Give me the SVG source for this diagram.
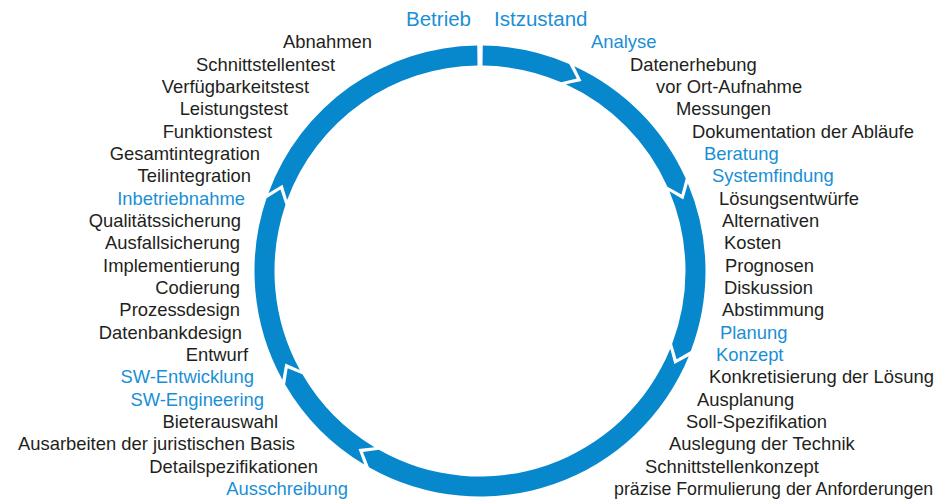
<svg xmlns="http://www.w3.org/2000/svg" width="940" height="501" viewBox="0 0 940 501">
<style>
.seg{fill:#0788cd;stroke:none}
text{font-family:"Liberation Sans",Arial,sans-serif;font-size:18.4px;fill:#231f20}
.b{fill:#1a8fd5}
.h{font-size:20.5px;fill:#1a8fd5}
.l{text-anchor:end}
.n{font-size:17.8px}
</style>
<rect width="940" height="501" fill="#ffffff"/>
<g id="connectors">
<path class="seg" d="M482.75,45.52 A225.5,225.5 0 0 1 569.20,63.89 L576.83,78.48 L561.29,82.26 A205.5,205.5 0 0 0 482.51,65.52 Z"/>
<path class="seg" d="M574.23,66.13 A225.5,225.5 0 0 1 685.70,178.56 L681.46,194.47 L667.46,186.76 A205.5,205.5 0 0 0 565.87,84.30 L581.50,80.90 Z"/>
<path class="seg" d="M687.88,183.61 A225.5,225.5 0 0 1 690.80,351.08 L676.58,359.34 L672.11,343.97 A205.5,205.5 0 0 0 669.44,191.37 L683.27,199.42 Z"/>
<path class="seg" d="M688.78,356.20 A225.5,225.5 0 0 1 368.96,467.27 L362.95,451.94 L378.81,449.86 A205.5,205.5 0 0 0 670.27,348.65 L674.35,364.12 Z"/>
<path class="seg" d="M364.20,464.49 A225.5,225.5 0 0 1 285.11,384.43 L287.65,368.16 L302.39,374.37 A205.5,205.5 0 0 0 374.47,447.33 L358.56,449.02 Z"/>
<path class="seg" d="M282.39,379.64 A225.5,225.5 0 0 1 266.53,198.33 L280.48,189.57 L285.46,204.77 A205.5,205.5 0 0 0 299.92,370.00 L285.33,363.44 Z"/>
<path class="seg" d="M268.37,193.13 A225.5,225.5 0 0 1 477.25,45.52 L477.49,65.52 A205.5,205.5 0 0 0 287.14,200.04 L282.52,184.73 Z"/>
</g>
<g id="betrieb"><text class="h l" x="471" y="26">Betrieb</text></g>
<g id="istzustand"><text class="h" x="494" y="26">Istzustand</text></g>
<g id="analyse">
<text class="b" x="591" y="48.3">Analyse</text>
<text x="630" y="70.6">Datenerhebung</text>
<text x="656" y="93">vor Ort-Aufnahme</text>
<text x="676" y="115.3">Messungen</text>
<text x="692" y="137.7">Dokumentation der Abläufe</text>
</g>
<g id="beratung">
<text class="b" x="704" y="160">Beratung</text>
</g>
<g id="systemfindung">
<text class="b" x="712" y="182.3">Systemfindung</text>
<text x="719" y="204.7">Lösungsentwürfe</text>
<text x="722" y="227">Alternativen</text>
<text x="724" y="249.4">Kosten</text>
<text x="725" y="271.7">Prognosen</text>
<text x="724" y="294">Diskussion</text>
<text x="722" y="316.4">Abstimmung</text>
</g>
<g id="planung">
<text class="b" x="720" y="338.7">Planung</text>
</g>
<g id="konzept">
<text class="b" x="716" y="361.1">Konzept</text>
<text x="709" y="383.4">Konkretisierung der Lösung</text>
<text x="697" y="405.7">Ausplanung</text>
<text x="686" y="428.1">Soll-Spezifikation</text>
<text x="669" y="450.4">Auslegung der Technik</text>
<text x="645" y="472.8">Schnittstellenkonzept</text>
<text class="n" x="614" y="495.1">präzise Formulierung der Anforderungen</text>
</g>
<g id="ausschreibung">
<text class="b l" x="348" y="495.1">Ausschreibung</text>
<text class="l" x="318" y="472.8">Detailspezifikationen</text>
<text class="l" x="295" y="450.4">Ausarbeiten der juristischen Basis</text>
<text class="l" x="278" y="428.1">Bieterauswahl</text>
</g>
<g id="sw-engineering">
<text class="b l" x="264" y="405.7">SW-Engineering</text>
</g>
<g id="sw-entwicklung">
<text class="b l" x="254" y="383.4">SW-Entwicklung</text>
<text class="l" x="248" y="361.1">Entwurf</text>
<text class="l" x="242" y="338.7">Datenbankdesign</text>
<text class="l" x="240" y="316.4">Prozessdesign</text>
<text class="l" x="240" y="294">Codierung</text>
<text class="l" x="240" y="271.7">Implementierung</text>
<text class="l" x="240" y="249.4">Ausfallsicherung</text>
<text class="l" x="241" y="227">Qualitätssicherung</text>
</g>
<g id="inbetriebnahme">
<text class="b l" x="245" y="204.7">Inbetriebnahme</text>
<text class="l" x="251" y="182.3">Teilintegration</text>
<text class="l" x="260" y="160">Gesamtintegration</text>
<text class="l" x="272" y="137.7">Funktionstest</text>
<text class="l" x="288" y="115.3">Leistungstest</text>
<text class="l" x="309" y="93">Verfügbarkeitstest</text>
<text class="l" x="335" y="70.6">Schnittstellentest</text>
<text class="l" x="372" y="48.3">Abnahmen</text>
</g>
</svg>
